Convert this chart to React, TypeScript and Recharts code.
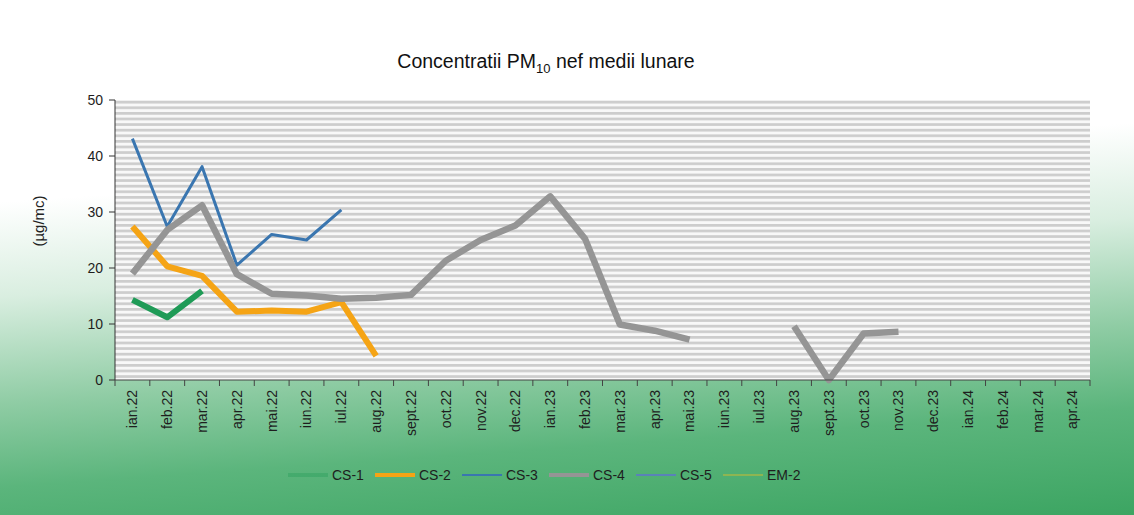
import { LineChart, Line, XAxis, YAxis, CartesianGrid } from "recharts";

const months = [
  "ian.22", "feb.22", "mar.22", "apr.22", "mai.22", "iun.22", "iul.22", "aug.22",
  "sept.22", "oct.22", "nov.22", "dec.22", "ian.23", "feb.23", "mar.23", "apr.23",
  "mai.23", "iun.23", "iul.23", "aug.23", "sept.23", "oct.23", "nov.23", "dec.23",
  "ian.24", "feb.24", "mar.24", "apr.24",
];

const cs1 = [14.3, 11.2, 15.9, null, null, null, null, null, null, null, null, null, null, null,
  null, null, null, null, null, null, null, null, null, null, null, null, null, null];
const cs2 = [27.4, 20.3, 18.6, 12.2, 12.4, 12.2, 13.9, 4.3, null, null, null, null, null, null,
  null, null, null, null, null, null, null, null, null, null, null, null, null, null];
const cs3 = [43.1, 27.4, 38.1, 20.5, 26.0, 25.0, 30.4, null, null, null, null, null, null, null,
  null, null, null, null, null, null, null, null, null, null, null, null, null, null];
const cs4 = [19.0, 26.8, 31.2, 18.9, 15.4, 15.1, 14.5, 14.7, 15.2, 21.3, 25.0, 27.6, 32.8, 25.2,
  9.9, 8.8, 7.2, null, null, 9.6, 0, 8.3, 8.6, null, null, null, null, null];
const cs5: (number | null)[] = [];
const em2: (number | null)[] = [];

const yTicks = [0, 10, 20, 30, 40, 50];

const series = [
  { key: "cs1", name: "CS-1", color: "#1f9b57", width: 6 },
  { key: "cs2", name: "CS-2", color: "#f5a415", width: 6 },
  { key: "cs3", name: "CS-3", color: "#3a76b0", width: 3 },
  { key: "cs4", name: "CS-4", color: "#959595", width: 6.5 },
  { key: "cs5", name: "CS-5", color: "#5a82b8", width: 3 },
  { key: "em2", name: "EM-2", color: "#a8b845", width: 2 },
];

const data = months.map((m, i) => ({
  month: m,
  cs1: cs1[i] ?? null,
  cs2: cs2[i] ?? null,
  cs3: cs3[i] ?? null,
  cs4: cs4[i] ?? null,
  cs5: cs5[i] ?? null,
  em2: em2[i] ?? null,
}));

const W = 1134;
const H = 515;
const PLOT_LEFT = 115;
const PLOT_RIGHT = 44;
const PLOT_W = W - PLOT_LEFT - PLOT_RIGHT;
const BAND = PLOT_W / months.length;
const FONT = '"Liberation Sans", Arial, sans-serif';

const XTick = (props: any) => {
  const { x, y, payload, index } = props;
  const ty = y + 10;
  return (
    <g>
      {index === 0 && (
        <line x1={x - BAND / 2} x2={x - BAND / 2} y1={y} y2={y + 6} stroke="#444" />
      )}
      <line x1={x + BAND / 2} x2={x + BAND / 2} y1={y} y2={y + 6} stroke="#444" />
      <text
        x={x}
        y={ty}
        transform={`rotate(-90 ${x} ${ty})`}
        textAnchor="end"
        dy="0.35em"
        fontSize={14}
        fill="#1e1e1e"
        fontFamily={FONT}
      >
        {payload.value}
      </text>
    </g>
  );
};

export default function App() {
  return (
    <div
      style={{
        position: "absolute",
        left: 0,
        top: 0,
        width: W,
        height: H,
        overflow: "hidden",
        fontFamily: FONT,
        background:
          "linear-gradient(176deg, #ffffff 0%, #ffffff 34%, #d9eee0 50%, #8fcca4 68%, #5bb57c 82%, #3ca562 100%)",
      }}
    >
      <div
        style={{
          position: "absolute",
          left: 546,
          top: 50,
          transform: "translateX(-50%)",
          fontSize: 19.5,
          color: "#111",
          whiteSpace: "nowrap",
        }}
      >
        Concentratii PM<sub style={{ fontSize: 13 }}>10</sub> nef medii lunare
      </div>
      <div
        style={{
          position: "absolute",
          left: 38,
          top: 221,
          transform: "translate(-50%, -50%) rotate(-90deg)",
          fontSize: 15,
          color: "#222",
          whiteSpace: "nowrap",
        }}
      >
        (µg/mc)
      </div>

      <LineChart
        width={W}
        height={H}
        data={data}
        margin={{ top: 100, right: PLOT_RIGHT, bottom: 65, left: 0 }}
      >
        <defs>
          <pattern id="hatch" width="8" height="5.6" patternUnits="userSpaceOnUse">
            <rect width="8" height="5.6" fill="#f8f8f8" />
            <rect width="8" height="2.7" fill="#cdcdcd" />
          </pattern>
        </defs>
        <CartesianGrid horizontal={false} vertical={false} fill="url(#hatch)" />
        <XAxis
          dataKey="month"
          interval={0}
          height={70}
          padding={{ left: BAND / 2, right: BAND / 2 }}
          tickSize={0}
          tickMargin={0}
          tickLine={false}
          axisLine={{ stroke: "#444" }}
          tick={<XTick />}
        />
        <YAxis
          width={PLOT_LEFT}
          domain={[0, 50]}
          ticks={yTicks}
          tickSize={6}
          tickMargin={6}
          axisLine={{ stroke: "#333" }}
          tickLine={{ stroke: "#333" }}
          tick={{ fontSize: 14, fill: "#1e1e1e", fontFamily: FONT }}
        />
        {series.map((s) => (
          <Line
            key={s.key}
            type="linear"
            dataKey={s.key}
            name={s.name}
            stroke={s.color}
            strokeWidth={s.width}
            strokeLinejoin="round"
            dot={false}
            activeDot={false}
            isAnimationActive={false}
          />
        ))}
      </LineChart>

      <div
        style={{
          position: "absolute",
          left: 288,
          top: 467,
          display: "flex",
          alignItems: "center",
          fontSize: 14,
          color: "#1e1e1e",
        }}
      >
        {series.map((s) => (
          <div key={s.key} style={{ display: "flex", alignItems: "center", width: 87 }}>
            <div
              style={{
                width: 40,
                height: Math.max(2, Math.min(4, s.width - 1)),
                background: s.color,
                marginRight: 4,
                opacity: s.key === "cs1" ? 0.35 : s.key === "em2" ? 0.7 : 1,
              }}
            />
            <span>{s.name}</span>
          </div>
        ))}
      </div>
    </div>
  );
}
